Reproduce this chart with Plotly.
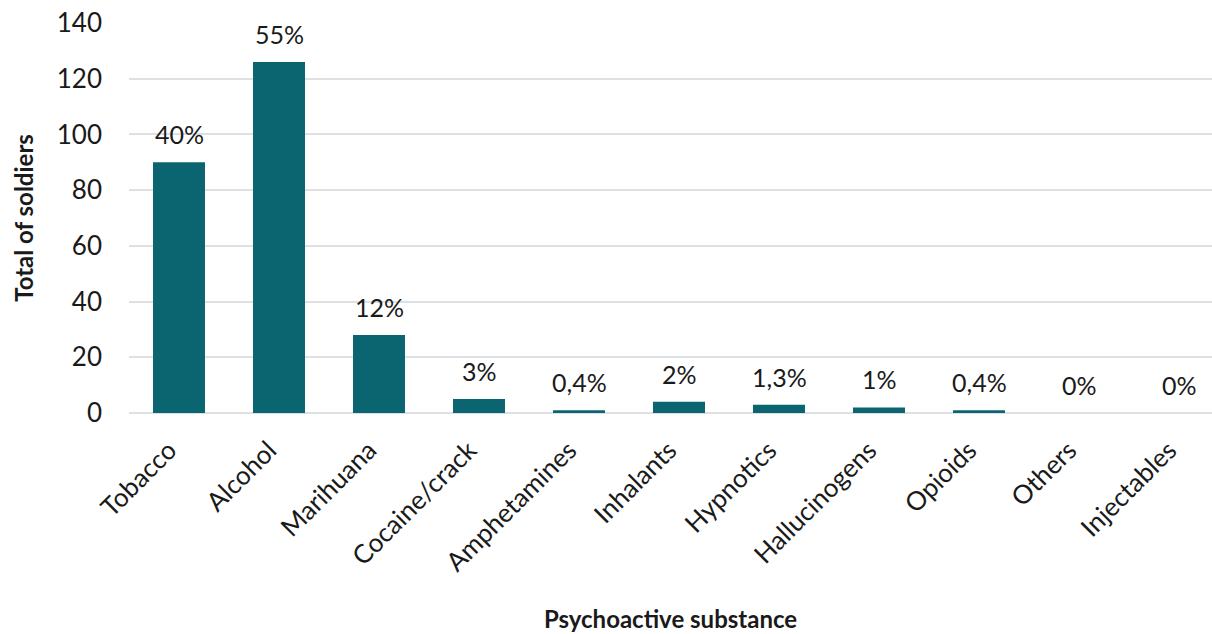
import plotly.graph_objects as go

categories = ["Tobacco", "Alcohol", "Marihuana", "Cocaine/crack", "Amphetamines",
              "Inhalants", "Hypnotics", "Hallucinogens", "Opioids", "Others", "Injectables"]
soldiers = [90, 126, 28, 5, 1, 4, 3, 2, 1, 0, 0]
percent_labels = ["40%", "55%", "12%", "3%", "0,4%", "2%", "1,3%", "1%", "0,4%", "0%", "0%"]

FONT = "Lato"
BAR = "#0b6570"
TXT = "#1a1a1a"

fig = go.Figure()
fig.add_trace(go.Bar(x=categories, y=soldiers, marker_color=BAR, width=0.52,
                     marker_line_width=0))

for c, v, t in zip(categories, soldiers, percent_labels):
    fig.add_annotation(x=c, y=v, text=t, showarrow=False, yanchor="middle",
                       yshift=28, font=dict(family=FONT, size=25, color=TXT))

fig.update_layout(
    width=1212, height=634,
    margin=dict(l=129, r=0, t=23, b=221),
    plot_bgcolor="white", paper_bgcolor="white",
    showlegend=False,
    font=dict(family=FONT, size=25, color=TXT),
    xaxis=dict(
        range=[-0.5, 10.33], tickangle=-45, showgrid=False, showline=False,
        ticks="", tickfont=dict(size=26), ticklabelstandoff=16, ticklabelshift=-10,
        title=dict(text="<b>Psychoactive substance</b>", font=dict(size=24), standoff=34),
    ),
    yaxis=dict(
        range=[0, 140], dtick=20, showgrid=True, gridcolor="#dde1e6", gridwidth=2,
        zeroline=True, zerolinecolor="#dde1e6", zerolinewidth=2, ticks="",
        ticklabelstandoff=26, tickfont=dict(size=26),
        title=dict(text="<b>Total of soldiers</b>", font=dict(size=24), standoff=16),
    ),
)

fig.write_html("out.html")
